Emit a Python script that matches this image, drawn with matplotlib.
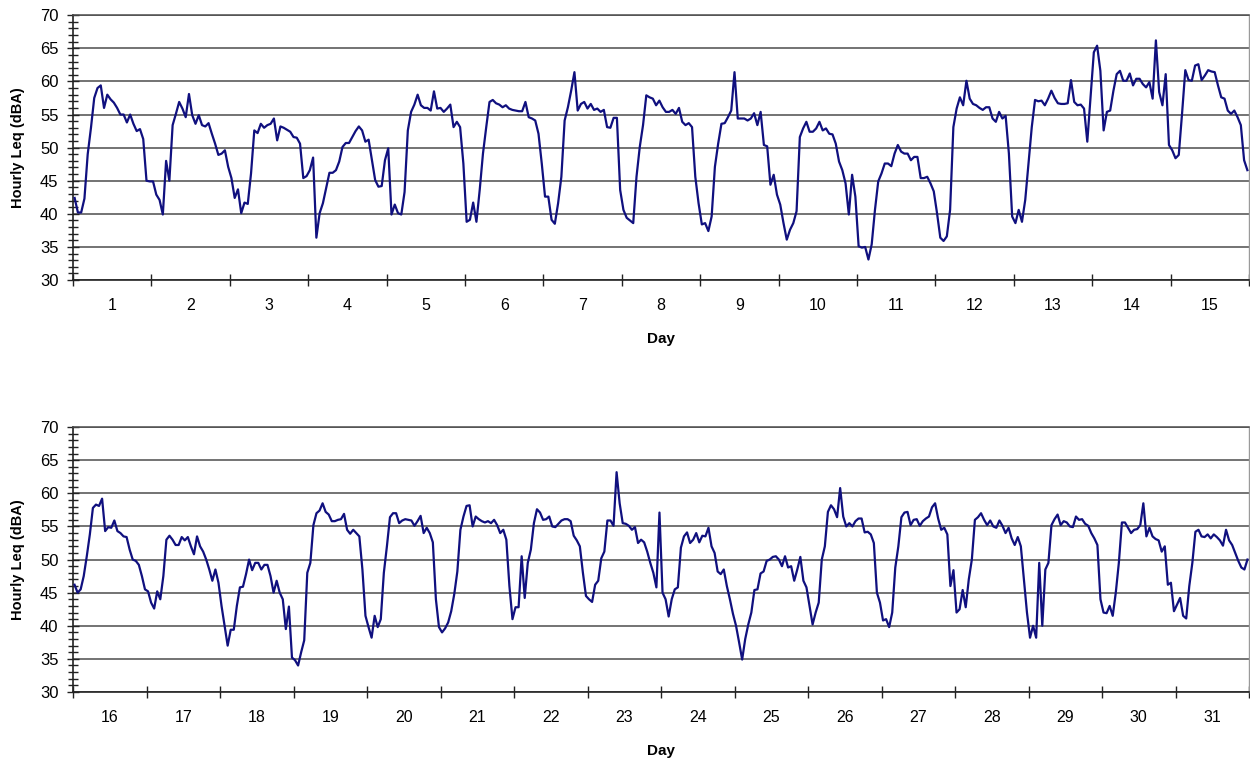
import numpy as np
import matplotlib
matplotlib.use("Agg")
import matplotlib.pyplot as plt
from matplotlib.ticker import MultipleLocator, FixedLocator, NullFormatter

plt.rcParams['font.family'] = ['Liberation Sans', 'DejaVu Sans']

# hourly Leq (dBA), 24 values per day
day01 = [42.4, 40.2, 40.2, 42.3, 49.0, 53.0, 57.5, 59.0, 59.4, 56.0, 58.0, 57.3,
         56.8, 56.0, 55.0, 55.0, 53.8, 55.0, 53.6, 52.5, 52.8, 51.3, 45.0, 44.9]
day02 = [44.9, 42.9, 42.1, 39.9, 48.0, 45.0, 53.4, 55.1, 56.9, 55.9, 54.6, 58.1,
         54.9, 53.6, 54.9, 53.4, 53.2, 53.7, 52.1, 50.6, 48.9, 49.1, 49.6, 47.1]
day03 = [45.4, 42.4, 43.7, 40.1, 41.7, 41.5, 46.1, 52.6, 52.2, 53.6, 53.0, 53.4,
         53.6, 54.4, 51.1, 53.2, 53.0, 52.7, 52.4, 51.6, 51.5, 50.6, 45.4, 45.7]
day04 = [46.6, 48.5, 36.4, 40.1, 41.6, 43.9, 46.2, 46.2, 46.6, 47.9, 50.1, 50.7,
         50.7, 51.6, 52.5, 53.2, 52.6, 50.9, 51.2, 48.1, 45.1, 44.1, 44.2, 48.1]
day05 = [49.9, 39.9, 41.4, 40.1, 39.9, 43.3, 52.6, 55.4, 56.5, 58.0, 56.4, 56.0,
         56.0, 55.6, 58.5, 55.9, 56.0, 55.4, 55.9, 56.5, 53.1, 53.9, 53.1, 47.6]
day06 = [38.8, 39.1, 41.7, 38.8, 43.6, 49.1, 53.1, 56.9, 57.2, 56.7, 56.5, 56.1,
         56.4, 55.9, 55.7, 55.6, 55.5, 55.5, 56.9, 54.6, 54.4, 54.1, 52.1, 47.6]
day07 = [42.6, 42.6, 39.1, 38.5, 41.6, 45.6, 54.1, 56.1, 58.6, 61.4, 55.6, 56.6,
         56.9, 55.9, 56.6, 55.7, 55.9, 55.4, 55.7, 53.1, 53.0, 54.5, 54.5, 43.6]
day08 = [40.6, 39.4, 39.0, 38.6, 45.6, 50.1, 53.4, 57.9, 57.6, 57.4, 56.4, 57.1,
         56.1, 55.4, 55.4, 55.7, 55.1, 56.0, 53.9, 53.4, 53.7, 53.1, 45.6, 41.6]
day09 = [38.4, 38.6, 37.4, 39.6, 47.1, 50.6, 53.6, 53.7, 54.6, 55.6, 61.4, 54.4,
         54.4, 54.4, 54.1, 54.4, 55.2, 53.4, 55.4, 50.4, 50.2, 44.4, 45.9, 42.9]
day10 = [41.4, 38.6, 36.1, 37.6, 38.6, 40.4, 51.6, 52.9, 53.9, 52.4, 52.4, 52.9,
         53.9, 52.6, 52.9, 52.1, 52.0, 50.6, 47.9, 46.6, 44.6, 39.9, 45.9, 42.6]
day11 = [35.1, 34.9, 35.0, 33.1, 35.4, 40.6, 44.9, 46.1, 47.6, 47.6, 47.2, 49.1,
         50.4, 49.4, 49.1, 49.1, 48.1, 48.6, 48.6, 45.4, 45.4, 45.6, 44.6, 43.4]
day12 = [40.1, 36.4, 35.9, 36.6, 40.6, 53.1, 55.9, 57.6, 56.4, 60.1, 57.4, 56.6,
         56.4, 56.0, 55.7, 56.1, 56.1, 54.4, 53.9, 55.4, 54.4, 54.8, 49.1, 39.6]
day13 = [38.6, 40.6, 38.8, 42.1, 47.6, 53.1, 57.2, 57.0, 57.1, 56.4, 57.4, 58.6,
         57.5, 56.7, 56.6, 56.6, 56.7, 60.2, 56.9, 56.4, 56.5, 55.9, 50.9, 57.6]
day14 = [64.4, 65.4, 61.6, 52.6, 55.4, 55.6, 58.6, 61.1, 61.6, 60.1, 60.1, 61.2,
         59.4, 60.4, 60.4, 59.6, 59.1, 59.9, 57.4, 66.2, 58.4, 56.4, 61.1, 50.4]
day15 = [49.6, 48.4, 48.9, 55.1, 61.7, 60.2, 60.1, 62.4, 62.6, 60.2, 60.9, 61.7,
         61.5, 61.4, 59.4, 57.6, 57.4, 55.6, 55.1, 55.6, 54.6, 53.4, 48.1, 46.6]

day16 = [46.2, 45.0, 45.5, 47.5, 50.5, 53.8, 57.8, 58.3, 58.1, 59.2, 54.3, 54.9,
         54.8, 55.9, 54.3, 54.0, 53.5, 53.4, 51.5, 50.0, 49.8, 49.2, 47.5, 45.5]
day17 = [45.2, 43.5, 42.6, 45.2, 44.0, 47.5, 53.0, 53.6, 53.0, 52.2, 52.2, 53.4,
         52.9, 53.4, 52.0, 50.8, 53.5, 52.0, 51.2, 50.0, 48.5, 46.8, 48.5, 46.5]
day18 = [43.0, 40.0, 37.0, 39.4, 39.4, 43.0, 45.8, 45.9, 47.8, 50.0, 48.4, 49.5,
         49.5, 48.5, 49.2, 49.2, 47.5, 45.0, 46.8, 45.0, 44.0, 39.5, 42.9, 35.2]
day19 = [34.8, 34.0, 36.0, 37.8, 48.0, 49.5, 55.2, 57.0, 57.4, 58.5, 57.2, 56.8,
         55.8, 55.8, 56.0, 56.1, 56.9, 54.5, 53.9, 54.5, 54.0, 53.5, 48.5, 41.5]
day20 = [39.8, 38.2, 41.5, 39.8, 41.0, 48.0, 52.0, 56.4, 57.0, 57.0, 55.5, 55.9,
         56.1, 56.0, 55.9, 55.1, 55.8, 56.6, 54.0, 54.8, 54.0, 52.6, 44.0, 39.8]
day21 = [39.0, 39.6, 40.5, 42.2, 44.8, 48.2, 54.5, 56.5, 58.1, 58.2, 55.0, 56.5,
         56.1, 55.8, 55.6, 55.8, 55.5, 56.0, 55.2, 54.0, 54.5, 53.0, 46.0, 41.0]
day22 = [42.8, 42.8, 50.5, 44.2, 49.5, 51.5, 55.5, 57.6, 57.1, 56.0, 56.1, 56.5,
         55.0, 54.9, 55.4, 55.9, 56.1, 56.1, 55.8, 53.6, 52.9, 52.0, 48.0, 44.5]
day23 = [44.0, 43.6, 46.2, 46.8, 50.2, 51.2, 55.9, 55.9, 55.1, 63.2, 58.5, 55.5,
         55.4, 55.1, 54.5, 54.9, 52.5, 53.0, 52.6, 51.2, 49.5, 48.0, 45.8, 57.1]
day24 = [45.0, 44.0, 41.4, 44.0, 45.5, 45.8, 51.8, 53.5, 54.1, 52.5, 53.0, 54.0,
         52.6, 53.6, 53.5, 54.8, 52.0, 51.0, 48.2, 47.8, 48.5, 46.0, 44.0, 41.8]
day25 = [40.0, 37.5, 34.9, 38.0, 40.2, 42.0, 45.4, 45.5, 47.9, 48.2, 49.8, 50.0,
         50.4, 50.5, 50.0, 49.0, 50.5, 48.8, 49.0, 46.8, 48.5, 50.4, 46.8, 45.8]
day26 = [43.0, 40.2, 42.0, 43.5, 50.0, 52.0, 57.2, 58.2, 57.6, 56.4, 60.8, 56.5,
         55.0, 55.5, 55.0, 55.8, 56.2, 56.2, 54.1, 54.2, 53.8, 52.5, 45.0, 43.5]
day27 = [40.8, 41.0, 39.8, 42.0, 48.8, 52.0, 56.4, 57.1, 57.2, 55.2, 56.0, 56.1,
         55.1, 55.8, 56.2, 56.5, 57.9, 58.5, 56.2, 54.5, 54.8, 53.8, 46.0, 48.4]
day28 = [42.0, 42.5, 45.4, 42.8, 47.0, 50.0, 56.0, 56.4, 57.0, 56.0, 55.2, 55.9,
         55.0, 54.8, 55.9, 55.1, 54.0, 54.8, 53.2, 52.2, 53.4, 52.0, 47.0, 42.0]
day29 = [38.2, 40.0, 38.2, 49.5, 40.0, 48.5, 49.5, 55.2, 56.1, 56.8, 55.2, 55.8,
         55.6, 55.0, 54.9, 56.5, 56.0, 56.1, 55.4, 55.1, 54.0, 53.2, 52.2, 44.0]
day30 = [42.0, 41.9, 43.0, 41.5, 45.0, 49.5, 55.6, 55.6, 54.8, 54.0, 54.5, 54.6,
         55.2, 58.5, 53.5, 54.8, 53.5, 53.1, 52.9, 51.2, 52.0, 46.2, 46.5, 42.2]
day31 = [43.2, 44.2, 41.5, 41.1, 46.0, 49.5, 54.2, 54.5, 53.5, 53.4, 53.8, 53.2,
         53.8, 53.4, 52.9, 52.1, 54.5, 52.9, 52.2, 51.0, 49.8, 48.8, 48.5, 50.0]

first_half = [day01, day02, day03, day04, day05, day06, day07, day08,
              day09, day10, day11, day12, day13, day14, day15]
second_half = [day16, day17, day18, day19, day20, day21, day22, day23,
               day24, day25, day26, day27, day28, day29, day30, day31]
first_days = list(range(1, 16))
second_days = list(range(16, 32))

line_color = "#10107f"
grid_color = "#4d4d4d"


def draw_panel(ax, days_data, day_labels):
    leq = np.concatenate([np.array(d) for d in days_data])
    hours = np.arange(len(leq)) + 0.5
    ax.plot(hours, leq, color=line_color, linewidth=1.6, zorder=3)

    n_days = len(day_labels)
    ax.set_xlim(0, 24 * n_days)
    ax.set_ylim(30, 70)

    # horizontal gridlines every 5 dB
    ax.yaxis.set_major_locator(MultipleLocator(5))
    ax.yaxis.set_minor_locator(MultipleLocator(1))
    ax.grid(axis="y", which="major", color=grid_color, linewidth=1.1, zorder=1)

    # day boundaries as ticks, day numbers centred between them
    ax.xaxis.set_major_locator(FixedLocator(np.arange(0, 24 * n_days + 1, 24)))
    ax.xaxis.set_major_formatter(NullFormatter())
    ax.xaxis.set_minor_locator(FixedLocator(np.arange(12, 24 * n_days, 24)))
    ax.set_xticklabels([str(d) for d in day_labels], minor=True)

    ax.tick_params(axis="x", which="major", direction="inout", length=9,
                   width=1, color="#222222")
    ax.tick_params(axis="x", which="minor", length=0, pad=13, labelsize=11.5)
    ax.tick_params(axis="y", which="major", direction="inout", length=9,
                   width=1, color="#222222", labelsize=12, pad=6)
    ax.tick_params(axis="y", which="minor", direction="inout", length=7,
                   width=1, color="#222222")

    for side in ["left", "bottom"]:
        ax.spines[side].set_color("#222222")
        ax.spines[side].set_linewidth(1.2)
    ax.spines["top"].set_color(grid_color)
    ax.spines["top"].set_linewidth(1.1)
    ax.spines["right"].set_color("#9a9a9a")
    ax.spines["right"].set_linewidth(1.0)

    ax.set_xlabel("Day", fontsize=11, fontweight="bold")
    ax.xaxis.set_label_coords(0.5, -0.197)
    ax.xaxis.label.set_verticalalignment("top")


fig = plt.figure(figsize=(12.5, 7.61), dpi=100)
ax1 = fig.add_axes([0.0584, 0.632, 0.9408, 0.348])
ax2 = fig.add_axes([0.0584, 0.0907, 0.9408, 0.348])

draw_panel(ax1, first_half, first_days)
draw_panel(ax2, second_half, second_days)

fig.text(18 / 1250, 0.806, "Hourly Leq (dBA)", rotation=90, ha="center",
         va="center", fontsize=10.5, fontweight="bold")
fig.text(18 / 1250, 0.265, "Hourly Leq (dBA)", rotation=90, ha="center",
         va="center", fontsize=10.5, fontweight="bold")

fig.savefig("out.png", dpi=100, facecolor="white")
